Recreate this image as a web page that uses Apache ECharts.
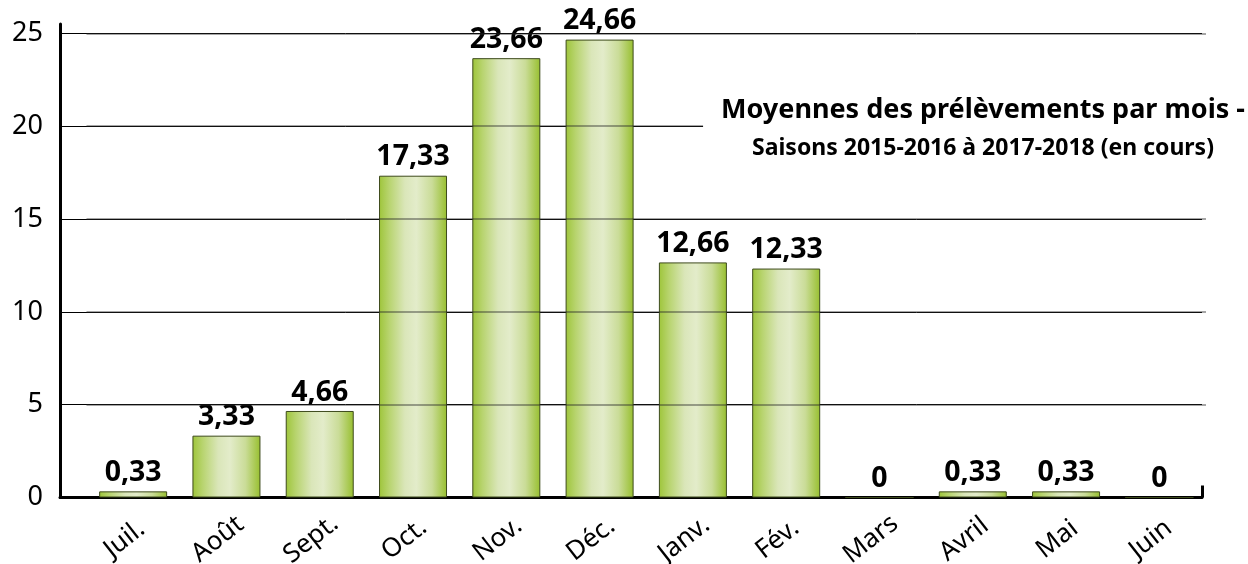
<!DOCTYPE html>
<html>
<head>
<meta charset="utf-8">
<script src="https://cdn.jsdelivr.net/npm/echarts@6/dist/echarts.min.js"></script>
<style>html,body{margin:0;padding:0;background:#fff}#c{width:1248px;height:564px}</style>
</head>
<body>
<div id="c"></div>
<script>
const categories = ['Juil.', 'Août', 'Sept.', 'Oct.', 'Nov.', 'Déc.', 'Janv.', 'Fév.', 'Mars', 'Avril', 'Mai', 'Juin'];
const values = [0.33, 3.33, 4.66, 17.33, 23.66, 24.66, 12.66, 12.33, 0, 0.33, 0.33, 0];
const yTicks = [0, 5, 10, 15, 20, 25];
const titleLine1 = 'Moyennes des prélèvements par mois -';
const titleLine2 = 'Saisons 2015-2016 à 2017-2018 (en cours)';

const FONT = '"Noto Sans", sans-serif';
const yMin = yTicks[0];
const yInterval = yTicks[1] - yTicks[0];
const yMax = 25.5;

const chart = echarts.init(document.getElementById('c'), null, {renderer: 'canvas'});
const barGradient = new echarts.graphic.LinearGradient(0, 0, 1, 0, [
  {offset: 0, color: '#9ec53a'},
  {offset: 0.15, color: '#b8d46f'},
  {offset: 0.38, color: '#dae6b9'},
  {offset: 0.55, color: '#e3ecca'},
  {offset: 0.78, color: '#cadc98'},
  {offset: 1, color: '#97bf2e'}
]);

chart.setOption({
  animation: false,
  backgroundColor: '#fff',
  title: {
    text: titleLine1,
    subtext: titleLine2,
    textAlign: 'center',
    left: 965,
    top: 93,
    itemGap: 13,
    padding: [4, 18, 6, 18],
    backgroundColor: '#fff',
    textStyle: {fontFamily: FONT, fontWeight: 'bold', fontSize: 27, color: '#000'},
    subtextStyle: {fontFamily: FONT, fontWeight: 'bold', fontSize: 23, color: '#000'}
  },
  grid: [
    {left: 60, right: 46, top: 24, bottom: 66.5, outerBoundsMode: 'none'},
    {left: 86.5, right: 42, top: 24, bottom: 66.5, outerBoundsMode: 'none'}
  ],
  xAxis: [
    {
      gridIndex: 0, type: 'value', min: 0, max: 1, interval: 1,
      axisLine: {show: true, lineStyle: {color: '#000', width: 3}},
      axisTick: {show: true, inside: true, length: 12, lineStyle: {color: '#000', width: 3}},
      axisLabel: {show: false},
      splitLine: {show: false}
    },
    {
      gridIndex: 1, type: 'category', data: categories,
      axisLine: {show: false},
      axisTick: {show: false},
      axisLabel: {
        interval: 0, rotate: 38, align: 'center', verticalAlign: 'middle',
        margin: 35, padding: [0, 22, 0, 0],
        fontFamily: FONT, fontSize: 26, color: '#000'
      }
    }
  ],
  yAxis: [
    {
      gridIndex: 0, type: 'value', min: yMin, max: yMax, interval: yInterval,
      axisLine: {show: true, lineStyle: {color: '#000', width: 3}},
      axisTick: {show: false},
      axisLabel: {showMaxLabel: false, margin: 17, fontFamily: FONT, fontSize: 27, color: '#000'},
      splitLine: {show: true, showMaxLine: false, lineStyle: {color: '#000', width: 1}}
    },
    {
      gridIndex: 1, type: 'value', min: yMin, max: yMax, interval: yInterval, z: 3,
      axisLine: {show: false},
      axisTick: {show: false},
      axisLabel: {show: false},
      splitLine: {show: true, showMaxLine: false, showMinLine: false, lineStyle: {color: 'rgba(40,40,40,0.55)', width: 1.5}}
    }
  ],
  series: [{
    type: 'bar',
    xAxisIndex: 1,
    yAxisIndex: 1,
    data: values,
    barWidth: 68,
    itemStyle: {color: barGradient, borderColor: '#3d4a1c', borderWidth: 1},
    label: {
      show: true, position: 'top', distance: 4,
      fontFamily: FONT, fontWeight: 'bold', fontSize: 28.5, color: '#000',
      formatter: p => String(p.value).replace('.', ',')
    }
  }]
});
</script>
</body>
</html>
